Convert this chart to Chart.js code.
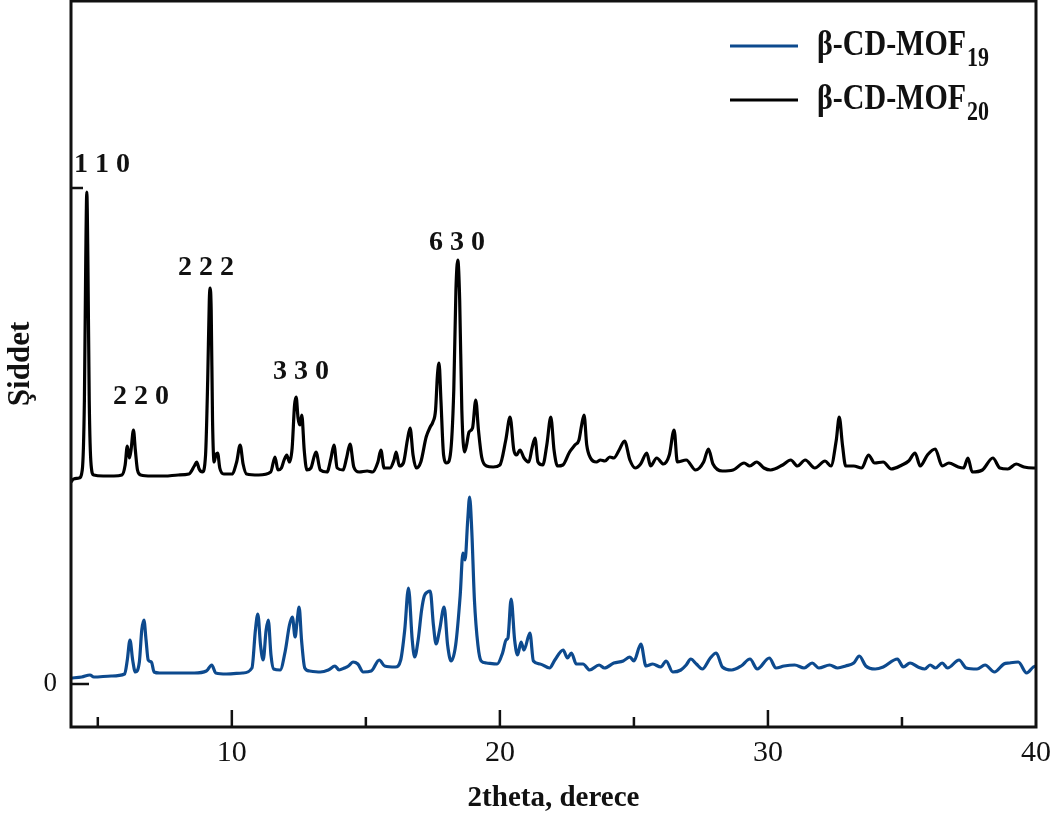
<!DOCTYPE html>
<html>
<head>
<meta charset="utf-8">
<script src="https://cdn.jsdelivr.net/npm/chart.js@4.4.0/dist/chart.umd.min.js"></script>
<style>
html,body{margin:0;padding:0;background:#fff;}
#wrap{width:1060px;height:816px;position:relative;}
</style>
</head>
<body>
<div id="wrap"><canvas id="c" width="1060" height="816"></canvas></div>
<script>
// ---- data ----
const seriesNames = ['β-CD-MOF', 'β-CD-MOF'];
const seriesSubscripts = ['19', '20'];

const mof20X = [
 4.00,4.10,4.30,4.42,4.50,4.55,4.59,4.63,4.68,4.75,
 4.85,5.2,5.6,5.9,6.02,6.10,6.18,6.24,6.33,6.40,
 6.48,6.6,7.0,7.5,8.0,8.4,8.6,8.69,8.78,8.90,
 9.02,9.10,9.16,9.19,9.23,9.28,9.34,9.40,9.47,9.55,
 9.7,10.0,10.18,10.31,10.42,10.55,11.0,11.45,11.61,11.72,
 11.85,11.95,12.05,12.15,12.25,12.34,12.40,12.47,12.54,12.61,
 12.70,12.80,12.95,13.14,13.30,13.55,13.70,13.81,13.93,14.15,
 14.28,14.41,14.55,14.75,15.05,15.25,15.45,15.56,15.68,15.9,
 16.05,16.13,16.25,16.40,16.55,16.65,16.76,16.88,17.05,17.25,
 17.40,17.50,17.60,17.67,17.73,17.80,17.90,18.02,18.15,18.28,
 18.36,18.43,18.50,18.58,18.68,18.75,18.85,18.98,19.10,19.20,
 19.32,19.50,19.75,20.0,20.22,20.38,20.52,20.62,20.75,20.90,
 21.08,21.20,21.31,21.42,21.60,21.75,21.90,22.02,22.15,22.35,
 22.60,22.80,22.95,23.05,23.14,23.24,23.38,23.6,23.75,23.92,
 24.1,24.25,24.45,24.65,24.85,25.05,25.25,25.48,25.62,25.85,
 26.10,26.32,26.50,26.62,26.95,27.3,27.60,27.78,27.95,28.3,
 28.7,29.11,29.32,29.58,29.85,30.1,30.55,30.85,31.1,31.39,
 31.75,32.13,32.35,32.55,32.66,32.78,32.90,33.2,33.5,33.75,
 33.98,34.3,34.6,35.0,35.25,35.49,35.68,35.95,36.24,36.5,
 36.75,37.1,37.3,37.46,37.62,38.0,38.39,38.65,38.95,39.26,
 39.55,39.9,40.0
];
const mof20Y = [
 202,205,206,214,284,424,492,424,284,219,
 209,208,208,209,219,238,226,234,254,234,
 214,209,208,208,209,210,218,222,215,212,
 229,304,384,396,374,264,222,229,231,216,
 210,210,222,239,220,210,209,212,227,214,
 216,224,229,222,236,279,287,266,259,269,
 234,214,216,232,214,212,226,239,216,214,
 226,240,217,212,213,212,222,234,216,216,
 224,232,218,221,244,256,229,216,222,247,
 257,262,274,309,321,284,229,221,229,294,
 394,424,384,274,232,238,252,256,284,254,
 227,218,217,219,244,267,234,229,234,226,
 222,236,246,222,219,239,267,234,218,219,
 232,239,244,259,269,239,226,222,224,223,
 227,226,234,243,224,216,220,231,218,226,
 220,229,254,222,224,214,222,235,220,213,
 214,221,218,222,216,214,219,224,218,224,
 216,223,218,244,267,239,218,218,216,229,
 221,222,215,219,223,231,218,229,235,218,
 221,217,216,226,212,214,226,216,215,220,
 217,216,216
];

const mof19X = [
 4.00,4.4,4.71,4.85,5.5,6.0,6.10,6.20,6.30,6.40,
 6.55,6.64,6.72,6.80,6.88,7.0,7.10,7.3,8.0,8.6,
 9.05,9.25,9.40,9.8,10.4,10.75,10.88,10.97,11.07,11.17,
 11.28,11.36,11.46,11.56,11.8,12.0,12.15,12.26,12.36,12.44,
 12.51,12.60,12.72,12.9,13.3,13.6,13.85,14.0,14.2,14.35,
 14.52,14.70,14.90,15.2,15.50,15.70,16.1,16.3,16.45,16.59,
 16.73,16.82,16.95,17.08,17.18,17.30,17.40,17.52,17.62,17.75,
 17.92,18.05,18.18,18.35,18.52,18.62,18.70,18.80,18.87,18.95,
 19.05,19.18,19.30,19.5,19.9,20.1,20.23,20.30,20.42,20.55,
 20.66,20.79,20.90,21.12,21.25,21.5,21.85,22.05,22.36,22.52,
 22.67,22.85,23.1,23.35,23.7,23.9,24.25,24.6,24.85,25.0,
 25.26,25.45,25.7,26.0,26.2,26.45,26.75,26.95,27.12,27.33,
 27.55,27.85,28.07,28.3,28.65,29.0,29.33,29.6,30.05,30.3,
 30.6,31.0,31.35,31.65,31.9,32.3,32.6,32.9,33.2,33.41,
 33.65,34.0,34.3,34.83,35.05,35.3,35.6,35.85,36.05,36.25,
 36.5,36.7,37.13,37.4,37.8,38.1,38.45,38.8,39.0,39.34,
 39.65,39.9,40.0
];
const mof19Y = [
 6,7,9,7,8,10,24,44,24,12,
 22,54,64,44,24,22,12,11,11,11,
 13,19,11,10,11,16,54,70,39,24,
 54,64,29,15,14,34,59,67,47,64,
 77,44,16,13,12,14,18,14,16,18,
 22,20,12,13,24,18,17,24,54,96,
 44,27,44,74,88,92,93,59,40,54,
 77,39,23,39,89,131,124,164,187,154,
 84,39,23,21,20,31,44,46,85,44,
 29,42,34,51,23,20,16,24,34,26,
 31,20,20,14,19,16,21,23,27,23,
 40,18,20,17,23,12,14,19,25,20,
 15,26,31,17,14,18,25,15,26,16,
 18,19,16,21,16,19,16,18,21,28,
 18,15,17,25,17,21,17,15,19,16,
 21,16,24,16,15,19,12,20,21,22,
 11,17,18
];

const xTickLabels = [10, 20, 30, 40];
const xMajorTicks = [10, 20, 30];
const xMinorTicks = [5, 15, 25, 35];
const yTickValues = [0, 496];
const yTickLabels = ['0', ''];

const peakLabels = ['1 1 0', '2 2 0', '2 2 2', '3 3 0', '6 3 0'];
const peakLabelX = [5.16, 6.61, 9.04, 12.58, 18.40];
const peakLabelY = [519, 287, 416, 312, 441];

// ---- styling ----
const BLUE = '#0d4a8e';
const INK = '#111111';
const SERIF = "'Liberation Serif', 'Times New Roman', serif";

function toPoints(xs, ys) { return xs.map((x, i) => ({x: x, y: ys[i]})); }

const decorPlugin = {
  id: 'decor',
  afterDraw(chart) {
    const {ctx, chartArea: a, scales: {x, y}} = chart;
    ctx.save();
    // frame
    ctx.strokeStyle = INK;
    ctx.lineWidth = 3;
    ctx.strokeRect(a.left, a.top, a.right - a.left, a.bottom - a.top);
    // inward ticks
    ctx.lineWidth = 2.5;
    ctx.beginPath();
    xMajorTicks.forEach(v => { const p = x.getPixelForValue(v); ctx.moveTo(p, a.bottom); ctx.lineTo(p, a.bottom - 17); });
    xMinorTicks.forEach(v => { const p = x.getPixelForValue(v); ctx.moveTo(p, a.bottom); ctx.lineTo(p, a.bottom - 10); });
    yTickValues.forEach((v, i) => { const p = y.getPixelForValue(v); ctx.moveTo(a.left, p); ctx.lineTo(a.left + (i === 0 ? 18 : 12), p); });
    ctx.stroke();

    // peak labels
    ctx.fillStyle = INK;
    ctx.font = 'bold 28px ' + SERIF;
    ctx.textAlign = 'center';
    ctx.textBaseline = 'middle';
    peakLabels.forEach((t, i) => {
      ctx.fillText(t, x.getPixelForValue(peakLabelX[i]), y.getPixelForValue(peakLabelY[i]));
    });

    // legend
    const lx0 = 730, lx1 = 798, tx = 817;
    const rows = [46, 100];
    chart.data.datasets.forEach((ds, i) => {
      const ly = rows[i];
      ctx.strokeStyle = ds.borderColor;
      ctx.lineWidth = 3;
      ctx.beginPath(); ctx.moveTo(lx0, ly); ctx.lineTo(lx1, ly); ctx.stroke();
      ctx.save();
      ctx.translate(tx, ly);
      ctx.scale(1, 1.2);
      ctx.fillStyle = INK;
      ctx.textAlign = 'left';
      ctx.textBaseline = 'middle';
      ctx.font = 'bold 30px ' + SERIF;
      ctx.fillText(seriesNames[i], 0, 0);
      const w = ctx.measureText(seriesNames[i]).width;
      ctx.font = 'bold 22px ' + SERIF;
      ctx.fillText(seriesSubscripts[i], w + 1, 11);
      ctx.restore();
    });
    ctx.restore();
  }
};

new Chart(document.getElementById('c'), {
  type: 'scatter',
  data: {
    datasets: [
      { label: seriesNames[0] + seriesSubscripts[0], data: toPoints(mof19X, mof19Y), showLine: true,
        borderColor: BLUE, backgroundColor: BLUE, borderWidth: 3.2, pointRadius: 0,
        cubicInterpolationMode: 'monotone' },
      { label: seriesNames[1] + seriesSubscripts[1], data: toPoints(mof20X, mof20Y), showLine: true,
        borderColor: '#000000', backgroundColor: '#000000', borderWidth: 3.2, pointRadius: 0,
        cubicInterpolationMode: 'monotone' }
    ]
  },
  options: {
    responsive: false,
    animation: false,
    devicePixelRatio: 1,
    layout: { padding: { top: 1, right: 24, left: 0, bottom: 0 } },
    plugins: { legend: { display: false }, tooltip: { enabled: false } },
    scales: {
      x: {
        type: 'linear', min: 4, max: 40,
        afterBuildTicks: s => { s.ticks = xTickLabels.map(v => ({ value: v })); },
        afterFit: s => { s.height = 89; s.paddingLeft = 0; s.paddingRight = 0; },
        grid: { display: false, drawTicks: false },
        border: { display: false },
        ticks: { font: { family: SERIF, size: 30 }, color: INK, padding: 8, maxRotation: 0, autoSkip: false,
                 callback: v => String(v) },
        title: { display: true, text: '2theta, derece', color: INK,
                 font: { family: SERIF, size: 29, weight: 'bold' }, padding: { top: 0, bottom: 0 } }
      },
      y: {
        type: 'linear', min: -43, max: 683,
        afterBuildTicks: s => { s.ticks = yTickValues.map(v => ({ value: v })); },
        afterFit: s => { s.width = 71; s.paddingTop = 0; s.paddingBottom = 0; },
        grid: { display: false, drawTicks: false },
        border: { display: false },
        ticks: { font: { family: SERIF, size: 27 }, color: INK, padding: 14, autoSkip: false,
                 callback: (v, i) => yTickLabels[i] },
        title: { display: true, text: 'Şiddet', color: INK,
                 font: { family: SERIF, size: 31, weight: 'bold' }, padding: { top: 2, bottom: 0 } }
      }
    }
  },
  plugins: [decorPlugin]
});
</script>
</body>
</html>
